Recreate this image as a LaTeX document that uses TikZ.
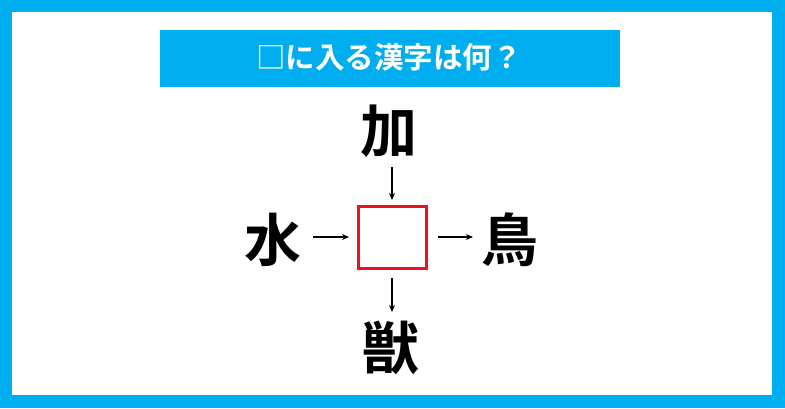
\documentclass[tikz,border=0pt]{standalone}
\usepackage{fontspec}
\newfontfamily\cjk{Noto Sans CJK JP}[BoldFont={Noto Sans CJK JP Bold}]
\usetikzlibrary{arrows.meta}
\definecolor{frameblue}{HTML}{00AEEF}
\definecolor{boxred}{HTML}{E8161C}
\tikzset{
  kanji/.style={font=\cjk\bfseries\fontsize{57}{57}\selectfont, text=black, inner sep=0pt},
  conn/.style={draw=black, line width=1.1pt, -{Stealth[length=7pt,width=6pt]}},
}
\begin{document}
\begin{tikzpicture}[x=1pt,y=-1pt]
\useasboundingbox (0,0) rectangle (785,408);
\fill[frameblue] (0,0) rectangle (785,408);
\fill[white] (12,12) rectangle (772,395);
\node[fill=frameblue, minimum width=460pt, minimum height=57pt, inner sep=0pt, anchor=north west] (title) at (160,30) {};
\node[font=\cjk\bfseries\fontsize{29.5}{29.5}\selectfont, text=white, inner sep=0pt] (titletext) at (389,57) {□に入る漢字は何？};
\node[draw=boxred, line width=3.5pt, minimum width=68pt, minimum height=62pt, inner sep=0pt] (box) at (392.5,237.5) {};
\node[kanji] (top) at (389,131) {加};
\node[kanji] (left) at (273,240) {水};
\node[kanji] (right) at (510,240) {鳥};
\node[kanji] (bottom) at (391,348) {獣};
\coordinate (tA) at (392,167);
\coordinate (tB) at (392,200);
\coordinate (bA) at (392,278);
\coordinate (bB) at (392,312);
\coordinate (lA) at (313,237);
\coordinate (lB) at (349,237);
\coordinate (rA) at (438,237);
\coordinate (rB) at (473,237);
\draw[conn] (tA) -- (tB);
\draw[conn] (bA) -- (bB);
\draw[conn] (lA) -- (lB);
\draw[conn] (rA) -- (rB);
\end{tikzpicture}
\end{document}
